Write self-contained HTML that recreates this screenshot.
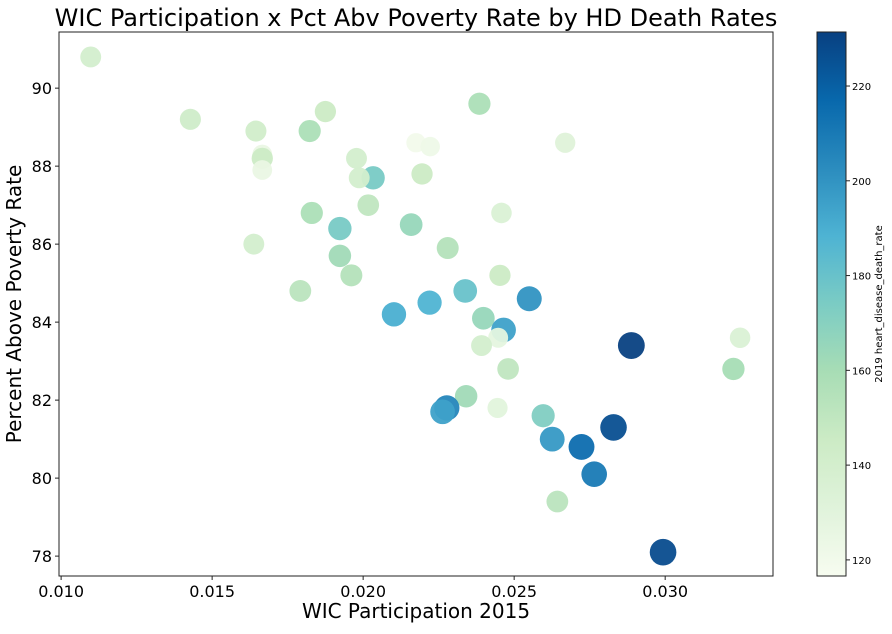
<!DOCTYPE html>
<html><head><meta charset="utf-8"><style>
body{margin:0;background:#fff;}
svg text{font-family:"DejaVu Sans","Liberation Sans",sans-serif;fill:#000;}
</style></head><body>
<svg id="chart" width="892" height="629" viewBox="0 0 892 629" xmlns="http://www.w3.org/2000/svg">
<defs>
<linearGradient id="gnbu" x1="0" y1="1" x2="0" y2="0">
<stop offset="0" stop-color="#f7fcf0"/><stop offset="0.125" stop-color="#e0f3db"/><stop offset="0.25" stop-color="#ccebc5"/><stop offset="0.375" stop-color="#a8ddb5"/><stop offset="0.5" stop-color="#7bccc4"/><stop offset="0.625" stop-color="#4eb3d3"/><stop offset="0.75" stop-color="#2b8cbe"/><stop offset="0.875" stop-color="#0868ac"/><stop offset="1" stop-color="#084081"/>
</linearGradient>
</defs>
<text x="416" y="26" font-size="24" text-anchor="middle">WIC Participation x Pct Abv Poverty Rate by HD Death Rates</text>
<g id="points"></g>
<rect x="59" y="32" width="714" height="544" fill="none" stroke="#222" stroke-width="1"/>
<g id="xticks"></g>
<g id="yticks"></g>
<text x="416" y="618" font-size="20" text-anchor="middle">WIC Participation 2015</text>
<text transform="translate(21,304) rotate(-90)" font-size="20" text-anchor="middle">Percent Above Poverty Rate</text>
<rect x="817" y="32" width="29" height="544" fill="url(#gnbu)" stroke="#222" stroke-width="1"/>
<g id="cticks"></g>
<text transform="translate(882,304) rotate(-90)" font-size="10" text-anchor="middle">2019 heart_disease_death_rate</text>
</svg>
<script>
const wic = [0.01098,0.01428,0.01645,0.01666,0.01666,0.01666,0.01875,0.01823,0.01978,0.02033,0.01987,0.02017,0.0183,0.01923,0.01638,0.01923,0.01961,0.01792,0.02102,0.02385,0.02175,0.02222,0.02669,0.02195,0.02458,0.02159,0.0228,0.02453,0.0222,0.02338,0.0255,0.02398,0.02465,0.02447,0.02392,0.02888,0.03248,0.03226,0.0248,0.02341,0.02277,0.02263,0.02445,0.02596,0.02829,0.02626,0.02723,0.02765,0.02643,0.02993];
const poverty = [90.8,89.2,88.9,88.3,88.2,87.9,89.4,88.9,88.2,87.7,87.7,87.0,86.8,86.4,86.0,85.7,85.2,84.8,84.2,89.6,88.6,88.5,88.6,87.8,86.8,86.5,85.9,85.2,84.5,84.8,84.6,84.1,83.8,83.6,83.4,83.4,83.6,82.8,82.8,82.1,81.8,81.7,81.8,81.6,81.3,81.0,80.8,80.1,79.4,78.1];
const deathRate = [140,143,142,125,145,125,145,158,140,175,140,150,158,175,140,162,155,152,190,158,120,122,132,145,135,165,155,145,188,180,200,165,195,128,140,231,135,160,150,162,205,195,130,172,226,198,215,210,152,227];
const xTicks = [0.010,0.015,0.020,0.025,0.030];
const xTickLabels = ["0.010","0.015","0.020","0.025","0.030"];
const yTicks = [78,80,82,84,86,88,90];
const cTicks = [120,140,160,180,200,220];

const X0=59,X1=773,Y0=32,Y1=576;
const xMin=0.00993,xMax=0.03357,yMin=77.49,yMax=91.44,cMin=116.6,cMax=231.4;
const xs=v=>X0+(v-xMin)/(xMax-xMin)*(X1-X0);
const ys=v=>Y1-(v-yMin)/(yMax-yMin)*(Y1-Y0);
const cs=v=>Y1-(v-cMin)/(cMax-cMin)*(Y1-Y0);
const stops=["#f7fcf0","#e0f3db","#ccebc5","#a8ddb5","#7bccc4","#4eb3d3","#2b8cbe","#0868ac","#084081"].map(h=>[1,3,5].map(i=>parseInt(h.substr(i,2),16)));
function cmap(v){let t=Math.max(0,Math.min(1,(v-cMin)/(cMax-cMin)))*8;let i=Math.min(7,Math.floor(t)),f=t-i;const a=stops[i],b=stops[i+1];return `rgb(${a.map((c,k)=>Math.round(c+(b[k]-c)*f)).join(',')})`;}
const NS="http://www.w3.org/2000/svg";
function mk(tag,attrs,parent){const e=document.createElementNS(NS,tag);for(const k in attrs)e.setAttribute(k,attrs[k]);parent.appendChild(e);return e;}
const pg=document.getElementById('points');
wic.forEach((w,i)=>{
  const c=mk('circle',{cx:xs(w),cy:ys(poverty[i]),r:13.4*Math.sqrt(deathRate[i]/230),fill:cmap(deathRate[i]),'fill-opacity':0.95},pg);
  
  
});
const xg=document.getElementById('xticks');
xTicks.forEach((t,i)=>{
  const l=mk('line',{x1:xs(t),x2:xs(t),y1:Y1,y2:Y1+4,stroke:'#222'},xg);
  
  
  const tx=mk('text',{x:xs(t),y:Y1+21,'font-size':16,'text-anchor':'middle'},xg);
  tx.textContent=xTickLabels[i];
  
  
});
const yg=document.getElementById('yticks');
yTicks.forEach(t=>{
  const l=mk('line',{x1:X0-4,x2:X0,y1:ys(t),y2:ys(t),stroke:'#222'},yg);
  
  
  const tx=mk('text',{x:X0-7,y:ys(t)+6,'font-size':16,'text-anchor':'end'},yg);
  tx.textContent=t;
  
  
});
const cg=document.getElementById('cticks');
cTicks.forEach(t=>{
  const l=mk('line',{x1:846,x2:850,y1:cs(t),y2:cs(t),stroke:'#222'},cg);
  
  
  const tx=mk('text',{x:852,y:cs(t)+4,'font-size':10},cg);
  tx.textContent=t;
  
  
});
</script>
</body></html>
